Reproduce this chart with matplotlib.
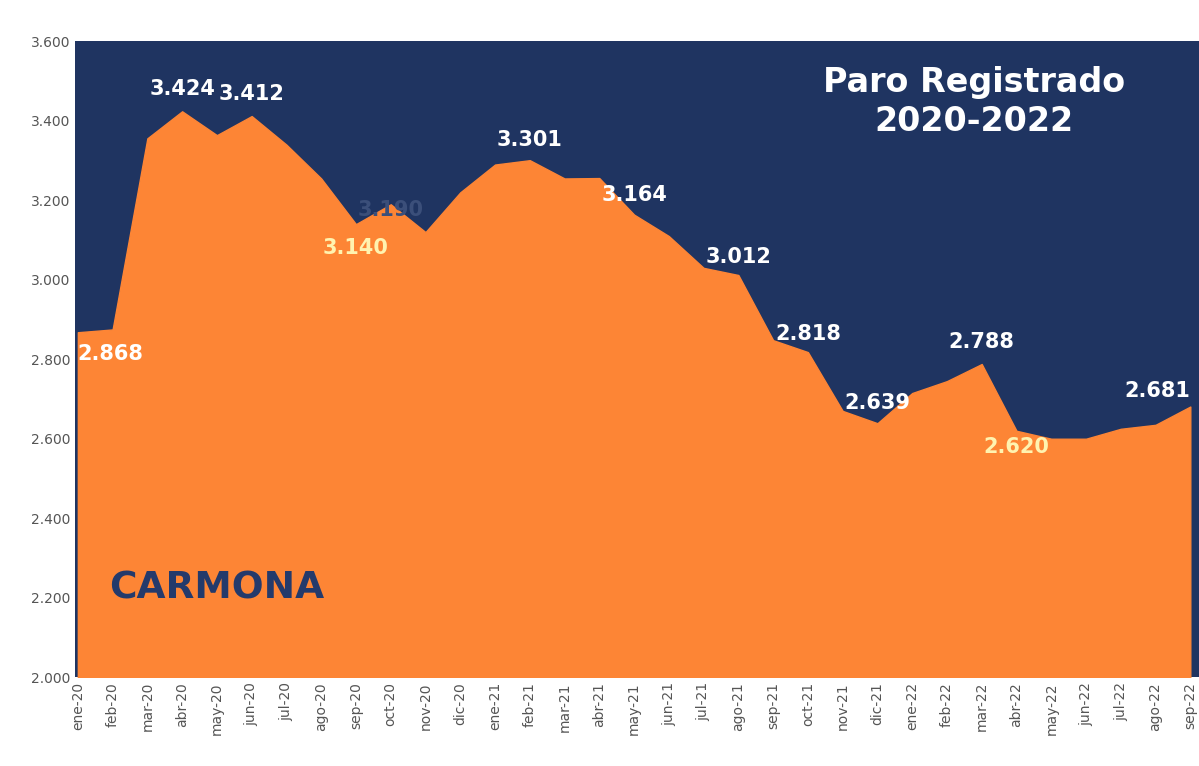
import matplotlib
matplotlib.use("Agg")
import matplotlib.pyplot as plt
from matplotlib.ticker import FuncFormatter

months = ["ene-20","feb-20","mar-20","abr-20","may-20","jun-20","jul-20","ago-20","sep-20","oct-20","nov-20","dic-20",
          "ene-21","feb-21","mar-21","abr-21","may-21","jun-21","jul-21","ago-21","sep-21","oct-21","nov-21","dic-21",
          "ene-22","feb-22","mar-22","abr-22","may-22","jun-22","jul-22","ago-22","sep-22"]
values = [2868,2875,3356,3424,3364,3412,3340,3255,3140,3190,3120,3220,
          3290,3301,3255,3256,3164,3110,3030,3012,2848,2818,2670,2639,
          2715,2745,2788,2620,2600,2600,2625,2635,2681]
# labelled points: index -> (colour, offset in data units)
labelled = {0:("white",-55),3:("white",55),5:("white",55),8:("#fff3b0",-60),9:("#3b4f7a",-15),
            13:("white",50),16:("white",50),19:("white",45),
            21:("white",45),23:("white",50),26:("white",55),27:("#fff3b0",-40),32:("white",40)}

fig = plt.figure(figsize=(11.99,7.66), dpi=100)
ax = fig.add_axes([0.0626,0.116,0.9374,0.83])
ax.set_facecolor("#1f3461")
x = list(range(len(months)))
ax.fill_between(x, 2000, values, color="#fd8535", zorder=2)
ax.set_xlim(-0.08, 32.25)
ax.set_ylim(2000, 3600)
ax.set_yticks(range(2000,3601,200))
ax.yaxis.set_major_formatter(FuncFormatter(lambda v,p: f"{int(v)//1000}.{int(v)%1000:03d}"))
ax.set_xticks(x)
ax.set_xticklabels(months, rotation=90, fontsize=10, color="#555555")
ax.tick_params(axis="y", labelsize=10, labelcolor="#555555", length=0)
ax.tick_params(axis="x", length=0)
for s in ax.spines.values():
    s.set_visible(False)
for i, (c, dy) in labelled.items():
    t = f"{values[i]//1000}.{values[i]%1000:03d}"
    ha = "center"
    if i == 0: ha = "left"
    if i == 32: ha = "right"
    ax.text(i, values[i]+dy, t, color=c, fontsize=15, fontweight="bold", ha=ha, va="center", zorder=3)
ax.text(0.80, 0.905, "Paro Registrado\n2020-2022", transform=ax.transAxes, color="white",
        fontsize=24, fontweight="bold", ha="center", va="center", linespacing=1.25, zorder=3)
ax.text(0.03, 0.14, "CARMONA", transform=ax.transAxes, color="#243a6b",
        fontsize=27, fontweight="bold", ha="left", va="center", zorder=3)
fig.savefig("out.png", dpi=100)
